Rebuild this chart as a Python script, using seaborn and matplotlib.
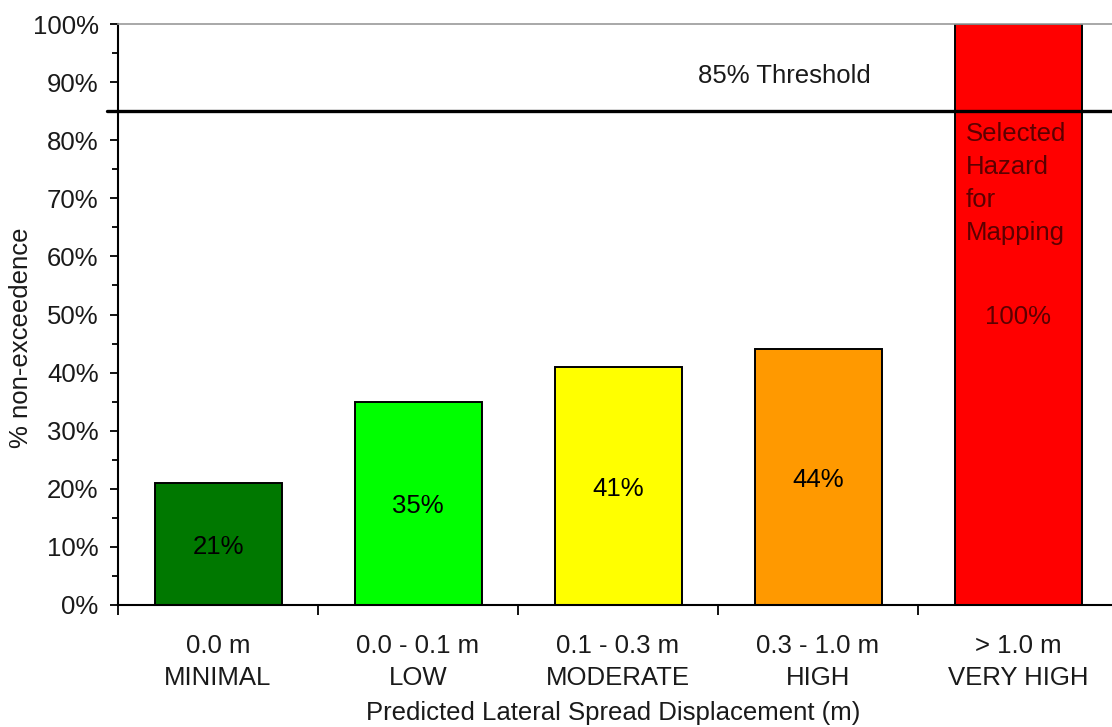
import matplotlib
matplotlib.use("Agg")
import matplotlib.pyplot as plt
import seaborn as sns
import pandas as pd
from matplotlib.ticker import MultipleLocator, FixedLocator, FuncFormatter, NullFormatter

# Displacement classes and the share of non-exceedence for each
ranges = ["0.0 m", "0.0 - 0.1 m", "0.1 - 0.3 m", "0.3 - 1.0 m", "> 1.0 m"]
hazard = ["MINIMAL", "LOW", "MODERATE", "HIGH", "VERY HIGH"]
non_exceedence = [21, 35, 41, 44, 100]
bar_colors = ["#007800", "#00FF00", "#FFFF00", "#FF9900", "#FF0000"]
threshold = 85
selected_note = "Selected\nHazard\nfor\nMapping"

sns.set_style("ticks")
plt.rcParams["font.family"] = ["Liberation Sans", "DejaVu Sans"]
FS = 18.5
TXT = "#1a1a1a"

df = pd.DataFrame({"hazard": hazard, "value": non_exceedence})

fig = plt.figure(figsize=(11.12, 7.27), dpi=100)
ax = fig.add_axes([118 / 1112, 1 - 605 / 727, 1000 / 1112, 581 / 727])

sns.barplot(data=df, x="hazard", y="value", hue="hazard", palette=bar_colors,
            legend=False, width=0.635, edgecolor="black", linewidth=1.4,
            saturation=1, ax=ax, zorder=2)

ax.set_xlim(-0.5, len(hazard) - 0.5)
ax.set_ylim(0, 100)

# y axis: percent ticks every 10 with half-step minors
ax.yaxis.set_major_locator(MultipleLocator(10))
ax.yaxis.set_minor_locator(MultipleLocator(5))
ax.yaxis.set_major_formatter(FuncFormatter(lambda v, p: f"{v:.0f}%"))
ax.tick_params(axis="y", which="major", direction="out", length=6, width=1.3,
               labelsize=FS, labelcolor=TXT, pad=8, color="black")
ax.tick_params(axis="y", which="minor", direction="out", length=4, width=1.3,
               color="black")

# x axis: ticks at class boundaries, labels centred in each class
ax.xaxis.set_major_locator(FixedLocator([i - 0.5 for i in range(len(hazard) + 1)]))
ax.xaxis.set_major_formatter(NullFormatter())
ax.xaxis.set_minor_locator(FixedLocator(list(range(len(hazard)))))
ax.set_xticks(list(range(len(hazard))),
              [f"{r}\n{h}" for r, h in zip(ranges, hazard)], minor=True)
ax.tick_params(axis="x", which="major", direction="out", length=7, width=1.3,
               color="black")
ax.tick_params(axis="x", which="minor", length=0, labelsize=FS,
               labelcolor=TXT, pad=21)
for lab in ax.get_xticklabels(minor=True):
    lab.set_linespacing(1.42)

ax.set_xlabel("Predicted Lateral Spread Displacement (m)", fontsize=FS,
              color=TXT, va="bottom")
ax.xaxis.set_label_coords(0.495, -0.207)
ax.set_ylabel("% non-exceedence", fontsize=FS, color=TXT)
ax.yaxis.set_label_coords(-0.085, 0.46)

for side in ("left", "bottom"):
    ax.spines[side].set_color("black")
    ax.spines[side].set_linewidth(1.5)
ax.spines["top"].set_visible(True)
ax.spines["top"].set_color("#9a9a9a")
ax.spines["top"].set_linewidth(1.2)
ax.spines["right"].set_visible(False)

# value labels centred in each bar
for i, v in enumerate(non_exceedence):
    color = "#5c0000" if v >= threshold else "black"
    ax.text(i, v / 2 - 0.5, f"{v}%", ha="center", va="center",
            fontsize=FS, color=color, zorder=4)

# threshold line and its caption
ax.axhline(threshold, xmin=-0.011, xmax=1.0, color="black", linewidth=2.4,
           clip_on=False, zorder=3)
ax.text(2.83, threshold + 6.0, f"{threshold}% Threshold", ha="center",
        va="center", fontsize=FS, color=TXT)

# note inside the selected class
sel = non_exceedence.index(max(non_exceedence))
ax.text(sel - 0.26, threshold - 1.8, selected_note, ha="left", va="top",
        fontsize=FS, color="#5c0000", linespacing=1.48, zorder=4)

fig.savefig("out.png", dpi=100)
